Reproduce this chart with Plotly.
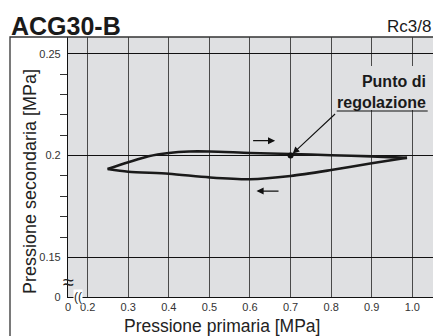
import plotly.graph_objects as go

# ---- data ----
upper_x = [0.249, 0.30, 0.35, 0.40, 0.45, 0.50, 0.60, 0.70, 0.80, 0.90, 0.987]
upper_y = [0.1934, 0.1967, 0.1997, 0.2013, 0.2020, 0.2020, 0.2013, 0.2008, 0.2002, 0.1996, 0.1989]
lower_x = [0.987, 0.90, 0.80, 0.70, 0.60, 0.50, 0.40, 0.30, 0.249]
lower_y = [0.1989, 0.1962, 0.1929, 0.1900, 0.1884, 0.1893, 0.1911, 0.1921, 0.1934]
set_point_x = [0.7]
set_point_y = [0.2]

x_tick_vals = [0.2, 0.3, 0.4, 0.5, 0.6, 0.7, 0.8, 0.9, 1.0]
x_tick_text = ["0.2", "0.3", "0.4", "0.5", "0.6", "0.7", "0.8", "0.9", "1.0"]
y_tick_vals = [0.15, 0.2, 0.25]
y_tick_text = ["0.15", "0.2", "0.25"]
y_minor_vals = [0.16, 0.17, 0.18, 0.19, 0.21, 0.22, 0.23, 0.24]

# axis break: left / bottom edges stand for 0
X_MIN, X_MAX = 0.1515, 1.051
Y_MIN, Y_MAX = 0.1306, 0.2582

FONT = "Liberation Sans, Arial, sans-serif"
W, H = 433, 336
ML, MR, MT, MB = 68, 0, 37, 39
PW, PH = W - ML - MR, H - MT - MB


def px(xp):
    return (xp - ML) / PW


def py(yp):
    return (H - MB - yp) / PH


fig = go.Figure()
line_style = dict(color="#1a1a1a", width=2.6, shape="spline", smoothing=0.8)
fig.add_trace(go.Scatter(x=upper_x, y=upper_y, mode="lines", line=line_style, hoverinfo="skip"))
fig.add_trace(go.Scatter(x=lower_x, y=lower_y, mode="lines", line=line_style, hoverinfo="skip"))
fig.add_trace(go.Scatter(x=set_point_x, y=set_point_y, mode="markers",
                         marker=dict(color="#111", size=6), hoverinfo="skip"))

fig.update_layout(
    width=W, height=H,
    margin=dict(l=ML, r=MR, t=MT, b=MB),
    paper_bgcolor="white",
    plot_bgcolor="#dfe0e2",
    showlegend=False,
    font=dict(family=FONT, color="#333"),
)

fig.update_xaxes(
    range=[X_MIN, X_MAX],
    tickmode="array",
    tickvals=[X_MIN] + x_tick_vals,
    ticktext=["0"] + x_tick_text,
    ticks="", tickfont=dict(size=11, color="#333"),
    showgrid=True, gridcolor="#4a4a4a", gridwidth=1.2,
    showline=True, linecolor="#111", linewidth=1.2,
    zeroline=False,
)
fig.update_yaxes(
    range=[Y_MIN, Y_MAX],
    tickmode="array",
    tickvals=[Y_MIN] + y_tick_vals,
    ticktext=["0"] + y_tick_text,
    ticks="", ticklabelstandoff=4, tickfont=dict(size=11, color="#333"),
    showgrid=True, gridcolor="#111", gridwidth=1,
    showline=True, linecolor="#111", linewidth=1.2,
    zeroline=False,
    minor=dict(tickmode="array", tickvals=y_minor_vals, ticks="outside",
               ticklen=7, tickcolor="#333", tickwidth=1, showgrid=False),
)

# outer frame
fig.add_shape(type="rect", xref="paper", yref="paper",
              x0=px(10), x1=px(434), y0=py(345), y1=py(37),
              line=dict(color="#333", width=1.3), fillcolor="rgba(0,0,0,0)", layer="above")
# label background (grid lines interrupted behind the label)
fig.add_shape(type="rect", xref="paper", yref="paper",
              x0=px(336), x1=px(431), y0=py(110), y1=py(66),
              line=dict(width=0), fillcolor="#dfe0e2", layer="above")

ann = []
ann.append(dict(text="<b>ACG30-B</b>", xref="paper", yref="paper", x=px(9), y=py(26),
                xanchor="left", yanchor="middle", showarrow=False,
                font=dict(size=25, color="#1a1a1a", family=FONT)))
ann.append(dict(text="Rc3/8", xref="paper", yref="paper", x=px(433), y=py(27),
                xanchor="right", yanchor="middle", showarrow=False,
                font=dict(size=17, color="#1a1a1a", family=FONT)))
ann.append(dict(text="Pressione primaria [MPa]", xref="paper", yref="paper", x=px(222), y=py(326),
                xanchor="center", yanchor="middle", showarrow=False,
                font=dict(size=17.5, color="#222", family=FONT)))
ann.append(dict(text="Pressione secondaria [MPa]", xref="paper", yref="paper", x=px(30), y=py(182),
                xanchor="center", yanchor="middle", showarrow=False, textangle=-90,
                font=dict(size=18, color="#222", family=FONT)))
ann.append(dict(text="<b>Punto di</b><br><b>regolazione</b>", xref="paper", yref="paper",
                x=px(428), y=py(92), xanchor="right", yanchor="middle", align="right",
                showarrow=False,
                font=dict(size=16, color="#1a1a1a", family=FONT)))
# arrow from label to set point
ann.append(dict(text="", x=set_point_x[0], y=set_point_y[0], xref="x", yref="y",
                ax=46, ay=-43, showarrow=True, arrowhead=2, arrowsize=1.2,
                arrowwidth=1.1, arrowcolor="#111", standoff=3))
# direction arrows
ann.append(dict(text="", x=0.662, y=0.2073, xref="x", yref="y",
                ax=0.604, ay=0.2073, axref="x", ayref="y", showarrow=True,
                arrowhead=2, arrowsize=1.1, arrowwidth=1.3, arrowcolor="#111"))
ann.append(dict(text="", x=0.616, y=0.1826, xref="x", yref="y",
                ax=0.674, ay=0.1826, axref="x", ayref="y", showarrow=True,
                arrowhead=2, arrowsize=1.1, arrowwidth=1.3, arrowcolor="#111"))
# axis break marks
ann.append(dict(text="≈", xref="paper", yref="paper", x=px(68), y=py(282),
                xanchor="center", yanchor="middle", showarrow=False,
                font=dict(size=20, color="#222", family=FONT)))
ann.append(dict(text="((", xref="paper", yref="paper", x=px(78), y=py(297),
                xanchor="center", yanchor="middle", showarrow=False, bgcolor="white",
                borderpad=0, font=dict(size=12, color="#222", family=FONT)))
fig.update_layout(annotations=ann)

# underline of the label
fig.add_shape(type="line", xref="paper", yref="paper",
              x0=px(336.7), x1=px(427.7), y0=py(111), y1=py(111),
              line=dict(color="#111", width=1.1))

fig.write_html(
    "out.html",
    config={"displayModeBar": False},
    post_script="document.body.style.margin='0';document.body.style.padding='0';"
                "document.body.style.overflow='hidden';",
)
